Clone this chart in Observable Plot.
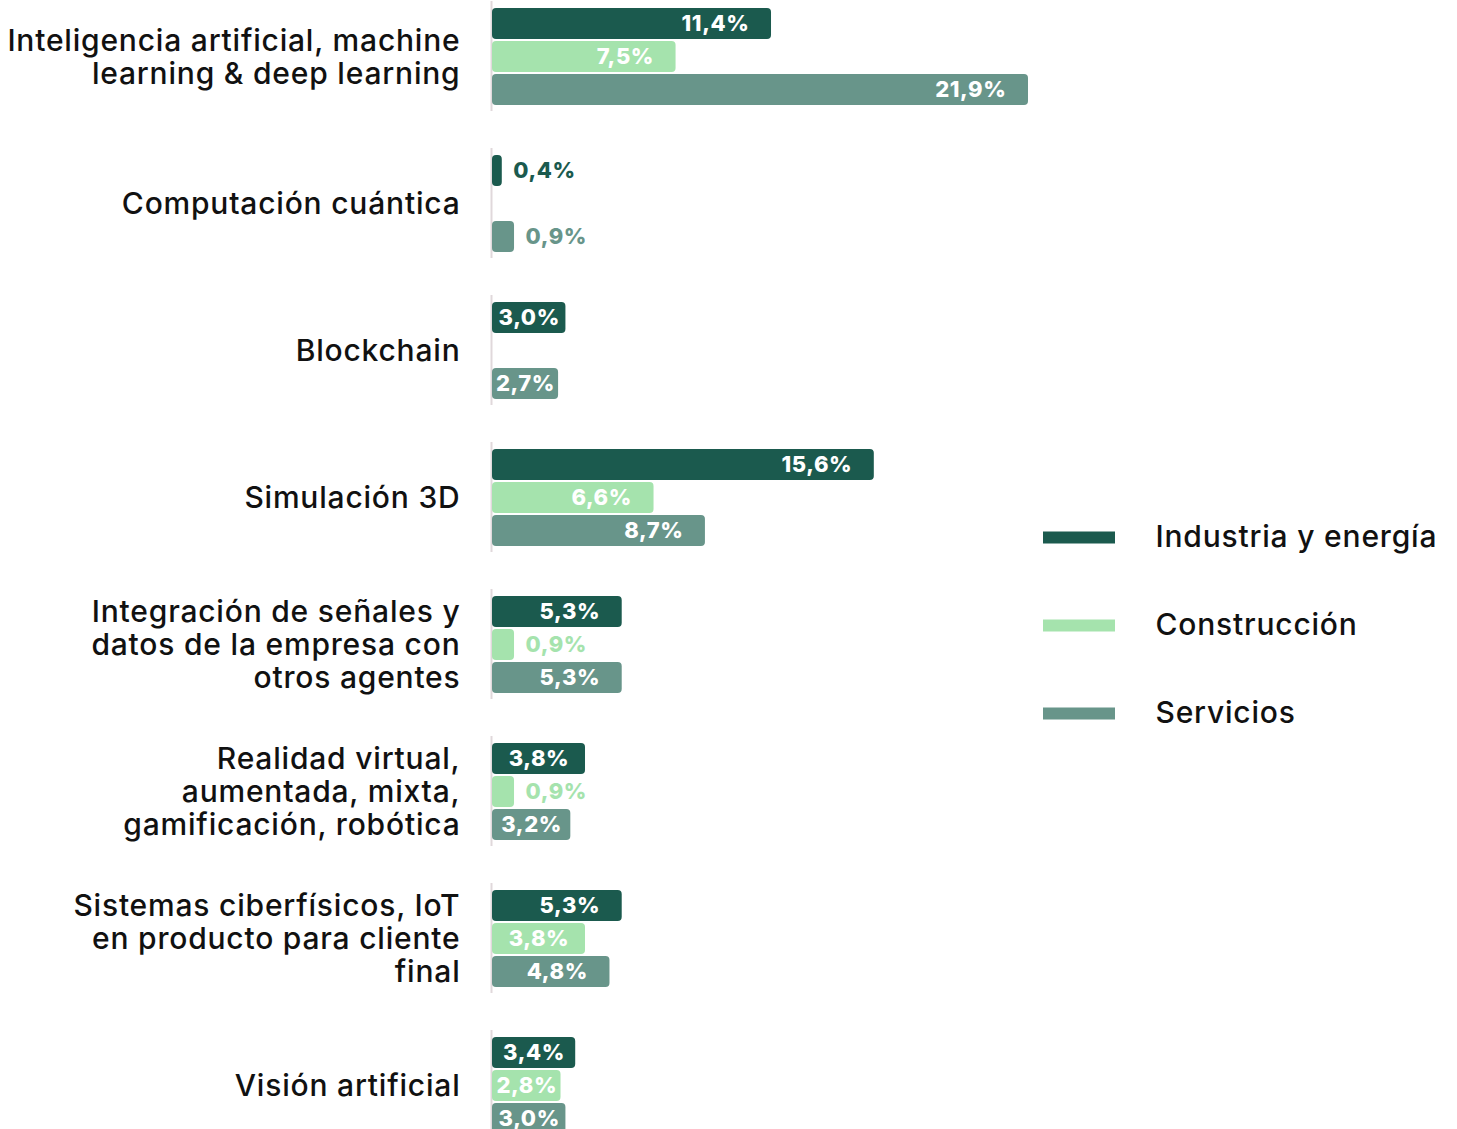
<!DOCTYPE html>
<html>
<head>
<meta charset="utf-8">
<script src="https://cdn.jsdelivr.net/npm/d3@7"></script>
<script src="https://cdn.jsdelivr.net/npm/@observablehq/plot@0.6"></script>
<style>
  html, body { margin: 0; padding: 0; background: #fff; overflow: hidden; }
  #wrap { position: relative; width: 1457px; height: 1129px; overflow: hidden; }
  #legend { position: absolute; left: 1035px; top: 493px; }
  .chart text, .legend text { letter-spacing: 0.8px; }
  .chart g[font-weight="800"] text { letter-spacing: 0.6px; }
</style>
</head>
<body>
<div id="wrap"><div id="chart"></div><div id="legend"></div></div>
<script>
const categories = [
  "Inteligencia artificial, machine\nlearning & deep learning",
  "Computación cuántica",
  "Blockchain",
  "Simulación 3D",
  "Integración de señales y\ndatos de la empresa con\notros agentes",
  "Realidad virtual,\naumentada, mixta,\ngamificación, robótica",
  "Sistemas ciberfísicos, IoT\nen producto para cliente\nfinal",
  "Visión artificial"
];
const series = ["Industria y energía", "Construcción", "Servicios"];
const industria    = [11.4, 0.4, 3.0, 15.6, 5.3, 3.8, 5.3, 3.4];
const construccion = [7.5, null, null, 6.6, 0.9, 0.9, 3.8, 2.8];
const servicios    = [21.9, 0.9, 2.7, 8.7, 5.3, 3.2, 4.8, 3.0];
const colors = ["#1b5a4e", "#a5e3ad", "#68958a"];

const seriesValues = [industria, construccion, servicios];
const data = [];
categories.forEach((c, i) => {
  series.forEach((s, j) => {
    const v = seriesValues[j][i];
    if (v != null) data.push({category: c, series: s, value: v});
  });
});
const fmt = v => v.toFixed(1).replace(".", ",") + "%";
const maxV = d3.max(data, d => d.value);

const common = {fy: "category", y: "series", text: d => fmt(d.value), fontSize: 22, fontWeight: 800};

const chart = Plot.plot({
  className: "chart",
  width: 1457,
  height: 1140,
  marginLeft: 492,
  marginRight: 429,
  marginTop: 0,
  marginBottom: 0,
  style: {fontFamily: "Inter, sans-serif", background: "white", color: "#111", overflow: "visible"},
  x: {domain: [0, maxV], axis: null},
  y: {domain: series, axis: null, paddingInner: 0.07, paddingOuter: 0.18},
  fy: {domain: categories, axis: null, paddingInner: 0.253, paddingOuter: 0},
  color: {domain: series, range: colors},
  marks: [
    Plot.ruleX([0], {stroke: "#e0d8db", strokeWidth: 2, dx: -1}),
    Plot.barX(data, {fy: "category", y: "series", x: "value", fill: "series", rx: 4}),
    Plot.text(data.filter(d => d.value >= 4.5), {...common, x: "value", textAnchor: "end", dx: -22, fill: "white"}),
    Plot.text(data.filter(d => d.value >= 2 && d.value < 4.5), {...common, x: d => d.value / 2, textAnchor: "middle", fill: "white"}),
    Plot.text(data.filter(d => d.value < 2), {...common, x: "value", textAnchor: "start", dx: 11, fill: "series"}),
    Plot.text(categories, {fy: d => d, frameAnchor: "left", dx: -32, textAnchor: "end", text: d => d, fontSize: 30, fontWeight: 500, lineHeight: 1.1, fill: "#111"})
  ]
});
document.getElementById("chart").appendChild(chart);

const legend = Plot.plot({
  className: "legend",
  width: 420,
  height: 264,
  margin: 0,
  style: {fontFamily: "Inter, sans-serif", background: "transparent", color: "#111"},
  x: {domain: [0, 1], range: [8, 80], axis: null},
  y: {type: "point", domain: series, padding: 0.5, axis: null},
  color: {domain: series, range: colors},
  marks: [
    Plot.ruleY(series, {y: d => d, x1: 0, x2: 1, stroke: d => d, strokeWidth: 12}),
    Plot.text(series, {y: d => d, x: 1, dx: 40, text: d => d, textAnchor: "start", fontSize: 30, fontWeight: 500, fill: "#111"})
  ]
});
document.getElementById("legend").appendChild(legend);
</script>
</body>
</html>
